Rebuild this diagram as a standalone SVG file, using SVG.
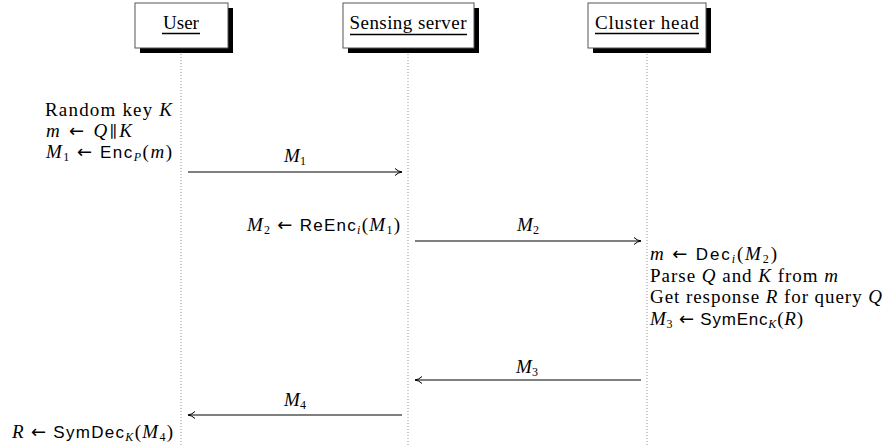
<svg xmlns="http://www.w3.org/2000/svg" width="885" height="445" viewBox="0 0 885 445">
<defs>
<style>
.t{font-family:"Liberation Serif","DejaVu Serif",serif;font-size:19px;fill:#000}
.i{font-style:italic}
.s{font-family:"Liberation Sans","DejaVu Sans",sans-serif;font-size:17px}
.sub{font-size:12px}
.ar{font-family:"DejaVu Sans",sans-serif;font-size:18px}
.par{font-family:"DejaVu Serif",serif;font-size:16px}
.box{fill:#fff;stroke:#555;stroke-width:1}
.sh{fill:#000}
.life{stroke:#999;stroke-width:1;stroke-dasharray:1 2}
.msg{stroke:#000;stroke-width:1.2;fill:none;marker-end:url(#ah)}
.ul{stroke:#000;stroke-width:1.4}
</style>
<marker id="ah" viewBox="0 0 10 10" refX="9" refY="5" markerWidth="10" markerHeight="10" markerUnits="userSpaceOnUse" orient="auto">
<path d="M2,1.5 Q5,4.5 9,5 Q5,5.5 2,8.5" fill="none" stroke="#000" stroke-width="1"/>
</marker>
</defs>

<g id="user">
<rect class="sh" x="140" y="8" width="93" height="45"/>
<rect class="box" x="135" y="3" width="93" height="45"/>
<text class="t" x="181" y="29" text-anchor="middle">User</text>
<line class="ul" x1="162" y1="33.5" x2="200" y2="33.5"/>
<line class="life" x1="181" y1="54" x2="181" y2="445"/>
</g>

<g id="sensing-server">
<rect class="sh" x="348" y="8" width="131" height="45"/>
<rect class="box" x="343" y="3" width="131" height="45"/>
<text class="t" x="408" y="29" text-anchor="middle" textLength="117" lengthAdjust="spacing">Sensing server</text>
<line class="ul" x1="350" y1="34.5" x2="467" y2="34.5"/>
<line class="life" x1="408" y1="54" x2="408" y2="445"/>
</g>

<g id="cluster-head">
<rect class="sh" x="593" y="8" width="118" height="45"/>
<rect class="box" x="588" y="3" width="118" height="45"/>
<text class="t" x="647" y="29" text-anchor="middle" textLength="104" lengthAdjust="spacing">Cluster head</text>
<line class="ul" x1="595" y1="33.5" x2="699" y2="33.5"/>
<line class="life" x1="647" y1="54" x2="647" y2="445"/>
</g>

<g id="connectors">
<line class="msg" x1="188" y1="172" x2="402" y2="172"/>
<line class="msg" x1="415" y1="241" x2="641" y2="241"/>
<line class="msg" x1="641" y1="380" x2="415" y2="380"/>
<line class="msg" x1="402" y1="415" x2="188" y2="415"/>
<text class="t" x="295" y="162" text-anchor="middle"><tspan class="i">M</tspan><tspan class="sub" dy="3">1</tspan></text>
<text class="t" x="528" y="231" text-anchor="middle"><tspan class="i">M</tspan><tspan class="sub" dy="3">2</tspan></text>
<text class="t" x="527" y="373" text-anchor="middle"><tspan class="i">M</tspan><tspan class="sub" dy="3">3</tspan></text>
<text class="t" x="295" y="406" text-anchor="middle"><tspan class="i">M</tspan><tspan class="sub" dy="3">4</tspan></text>
</g>

<g id="user-notes">
<text class="t" x="45" y="116" textLength="127" lengthAdjust="spacing">Random key <tspan class="i">K</tspan></text>
<text class="t" x="46" y="137" textLength="86" lengthAdjust="spacing"><tspan class="i">m</tspan> <tspan class="ar">←</tspan> <tspan class="i">Q</tspan><tspan class="par">∥</tspan><tspan class="i">K</tspan></text>
<text class="t" x="46" y="158" textLength="126" lengthAdjust="spacing"><tspan class="i">M</tspan><tspan class="sub" dy="3">1</tspan><tspan dy="-3"> </tspan><tspan class="ar">←</tspan> <tspan class="s">Enc</tspan><tspan class="sub i" dy="3">P</tspan><tspan dy="-3">(</tspan><tspan class="i">m</tspan>)</text>
<text class="t" x="12" y="438" textLength="161" lengthAdjust="spacing"><tspan class="i">R</tspan> <tspan class="ar">←</tspan> <tspan class="s">SymDec</tspan><tspan class="sub i" dy="3">K</tspan><tspan dy="-3">(</tspan><tspan class="i">M</tspan><tspan class="sub" dy="3">4</tspan><tspan dy="-3">)</tspan></text>
</g>

<g id="server-notes">
<text class="t" x="247" y="231" textLength="153" lengthAdjust="spacing"><tspan class="i">M</tspan><tspan class="sub" dy="3">2</tspan><tspan dy="-3"> </tspan><tspan class="ar">←</tspan> <tspan class="s">ReEnc</tspan><tspan class="sub i" dy="3">i</tspan><tspan dy="-3">(</tspan><tspan class="i">M</tspan><tspan class="sub" dy="3">1</tspan><tspan dy="-3">)</tspan></text>
</g>

<g id="cluster-notes">
<text class="t" x="650" y="260" textLength="127" lengthAdjust="spacing"><tspan class="i">m</tspan> <tspan class="ar">←</tspan> <tspan class="s">Dec</tspan><tspan class="sub i" dy="3">i</tspan><tspan dy="-3">(</tspan><tspan class="i">M</tspan><tspan class="sub" dy="3">2</tspan><tspan dy="-3">)</tspan></text>
<text class="t" x="650" y="282" textLength="188" lengthAdjust="spacing">Parse <tspan class="i">Q</tspan> and <tspan class="i">K</tspan> from <tspan class="i">m</tspan></text>
<text class="t" x="650" y="303" textLength="232" lengthAdjust="spacing">Get response <tspan class="i">R</tspan> for query <tspan class="i">Q</tspan></text>
<text class="t" x="650" y="325" textLength="153" lengthAdjust="spacing"><tspan class="i">M</tspan><tspan class="sub" dy="3">3</tspan><tspan dy="-3"> </tspan><tspan class="ar">←</tspan> <tspan class="s">SymEnc</tspan><tspan class="sub i" dy="3">K</tspan><tspan dy="-3">(</tspan><tspan class="i">R</tspan>)</text>
</g>
</svg>
